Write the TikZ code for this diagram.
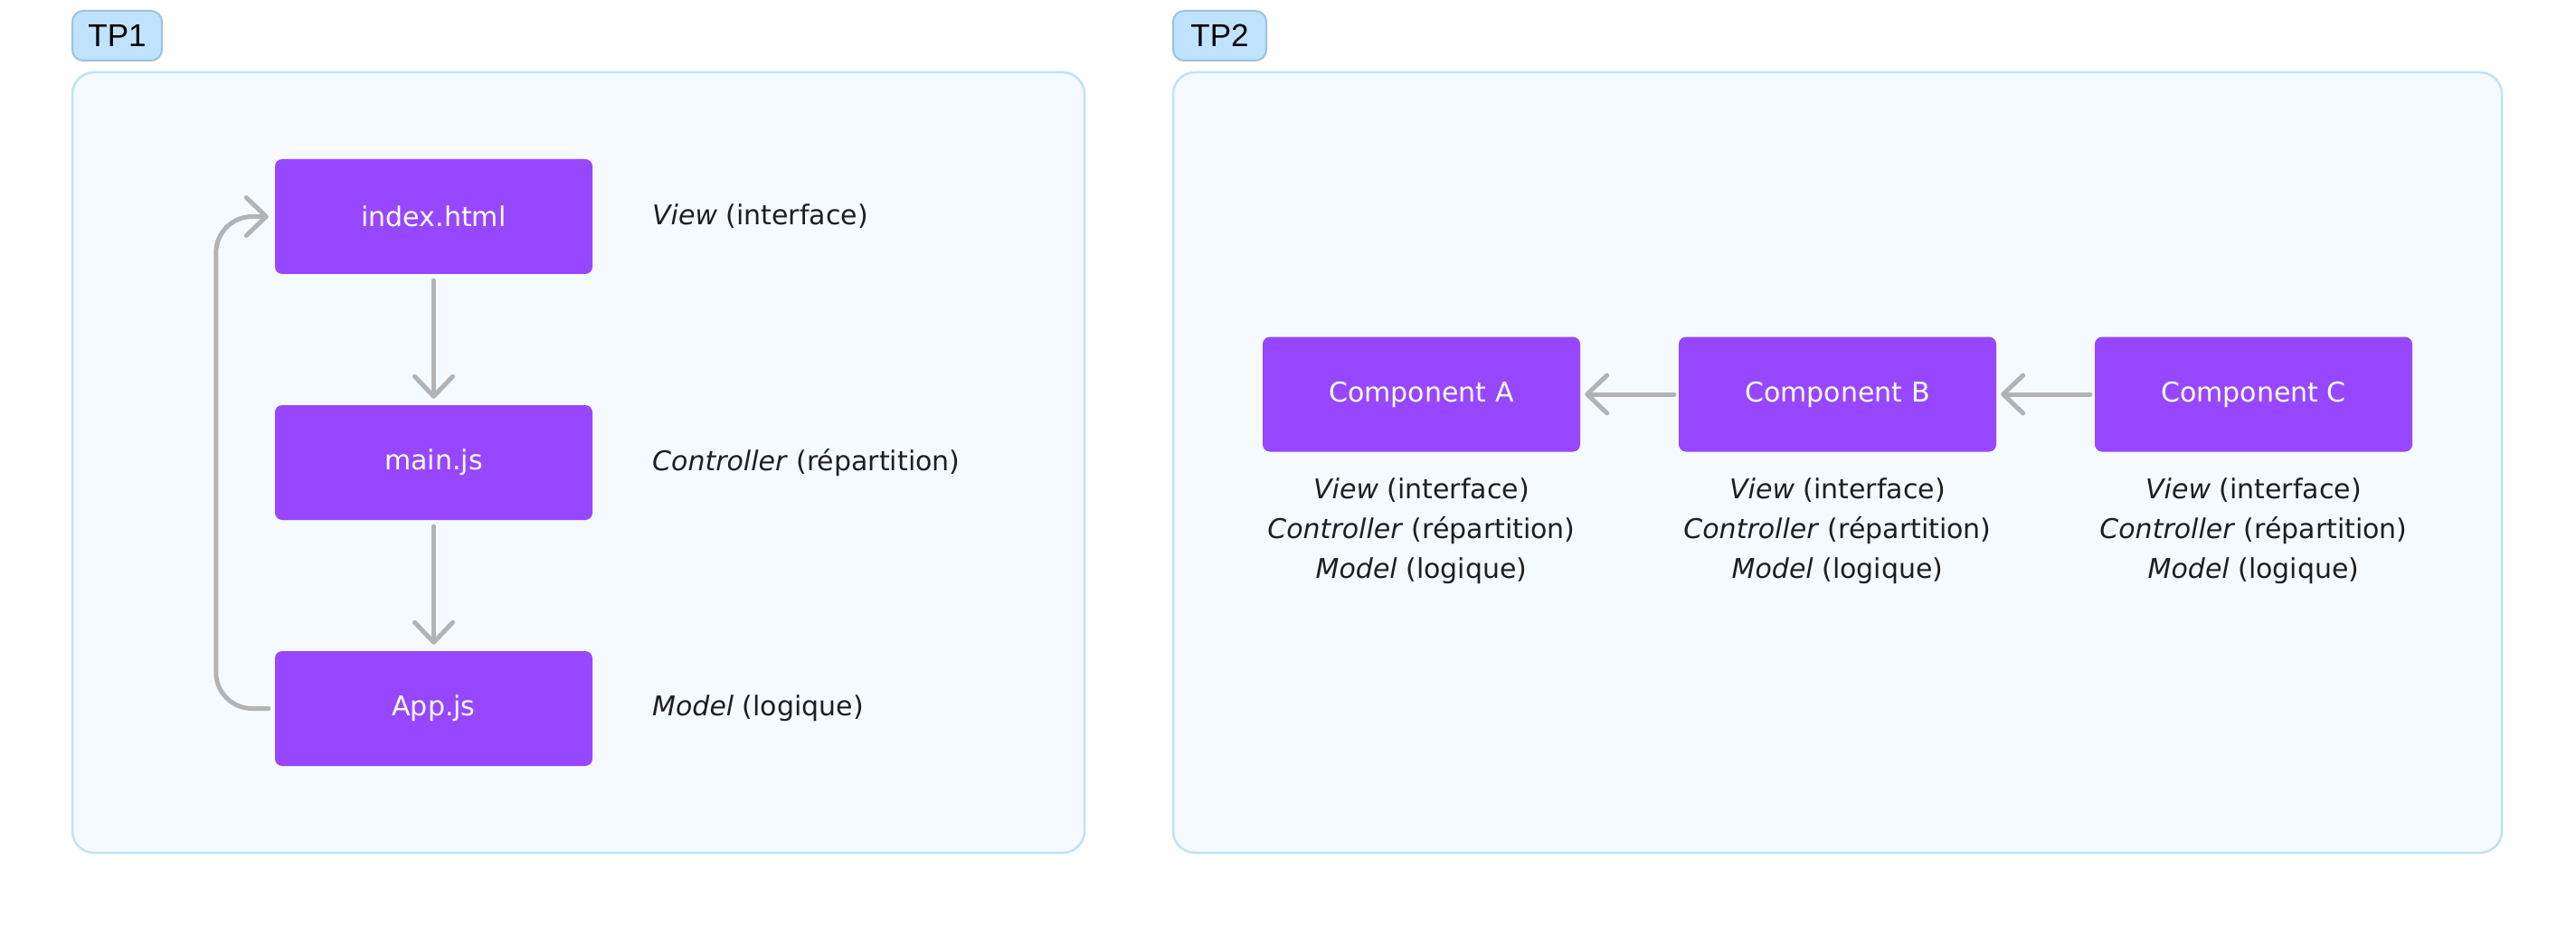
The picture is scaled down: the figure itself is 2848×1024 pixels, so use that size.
\documentclass[tikz,border=0pt]{standalone}
\usepackage{fontspec}
\setmainfont{DejaVu Sans}
\newfontfamily\tagfont{Liberation Sans}
\usetikzlibrary{arrows.meta}
\definecolor{purp}{HTML}{9747FF}
\definecolor{panelfill}{HTML}{F5FAFE}
\definecolor{paneldraw}{HTML}{BEE3FA}
\definecolor{tagfill}{HTML}{BFE3FD}
\definecolor{tagdraw}{HTML}{9DC3DD}
\definecolor{arrowgray}{HTML}{B3B3B3}
\definecolor{txt}{HTML}{1E1E1E}
\tikzset{
  panel/.style={draw=paneldraw, fill=panelfill, line width=2.5pt, rounded corners=24pt, inner sep=0pt},
  tagbox/.style={draw=tagdraw, fill=tagfill, line width=2pt, rounded corners=12pt, inner sep=0pt,
    minimum height=55pt, text=black, font=\tagfont\fontsize{35}{40}\selectfont},
  compbox/.style={fill=purp, rounded corners=8pt, minimum width=351pt, minimum height=127pt,
    inner sep=0pt, text=white, font=\fontsize{30}{36}\selectfont},
  lbl/.style={text=txt, inner sep=0pt, font=\fontsize{30}{44}\selectfont},
  conn/.style={draw=arrowgray, line width=5pt, line cap=round, line join=round,
    -{Straight Barb[length=22pt, width=42pt, round]}, shorten <=7pt, shorten >=7pt}
}
\begin{document}
\begin{tikzpicture}[x=1pt, y=-1pt]
\useasboundingbox (0,0) rectangle (2848,1024);
\fill[white] (0,0) rectangle (2848,1024);

% panels
\node[panel, minimum width=1119pt, minimum height=863pt] (panel1) at (639.5,511.5) {};
\node[panel, minimum width=1469pt, minimum height=863pt] (panel2) at (2031.5,511.5) {};

% tags
\node[tagbox, minimum width=99pt] (tp1) at (129.5,39.5) {TP1};
\node[tagbox, minimum width=103pt] (tp2) at (1348.5,39.5) {TP2};

% TP1 boxes
\node[compbox] (idx) at (479.5,239.5) {index.html};
\node[compbox] (main) at (479.5,511.5) {main.js};
\node[compbox] (app) at (479.5,783.5) {App.js};

\node[lbl, anchor=west] (lview) at (721,239.5) {\textit{View} (interface)};
\node[lbl, anchor=west] (lctrl) at (721,511.5) {\textit{Controller} (répartition)};
\node[lbl, anchor=west] (lmodel) at (721,783.5) {\textit{Model} (logique)};

\draw[conn] (idx.south) -- (main.north);
\draw[conn] (main.south) -- (app.north);
\draw[conn, rounded corners=40pt] (app.west) -- ++(-65,0) |- (idx.west);

% TP2 boxes
\node[compbox] (ca) at (1571.5,436) {Component A};
\node[compbox] (cb) at (2031.5,436) {Component B};
\node[compbox] (cc) at (2491.5,436) {Component C};

\draw[conn, shorten <=5pt, shorten >=5pt] (cb.west) -- (ca.east);
\draw[conn, shorten <=5pt, shorten >=5pt] (cc.west) -- (cb.east);

\node[lbl, align=center] (la) at (1571.5,587) {\textit{View} (interface)\\\textit{Controller} (répartition)\\\textit{Model} (logique)};
\node[lbl, align=center] (lb) at (2031.5,587) {\textit{View} (interface)\\\textit{Controller} (répartition)\\\textit{Model} (logique)};
\node[lbl, align=center] (lc) at (2491.5,587) {\textit{View} (interface)\\\textit{Controller} (répartition)\\\textit{Model} (logique)};
\end{tikzpicture}
\end{document}
